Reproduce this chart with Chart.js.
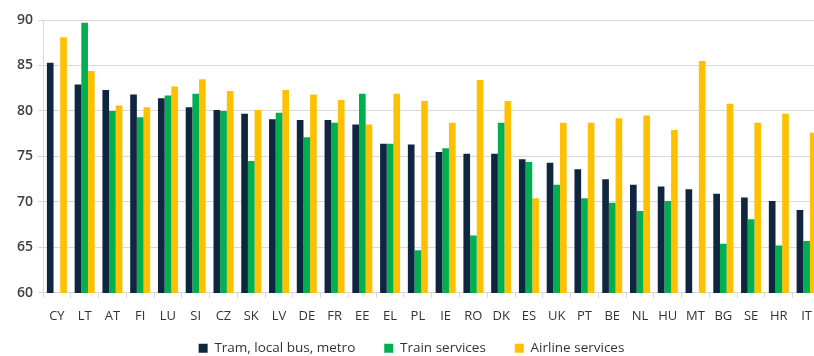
<!DOCTYPE html>
<html>
<head>
<meta charset="utf-8">
<script src="https://cdn.jsdelivr.net/npm/chart.js@4"></script>
<style>
  html, body { margin: 0; padding: 0; background: #fff; overflow: hidden; }
  #wrap { width: 823px; height: 356px; }
</style>
</head>
<body>
<div id="wrap"><canvas id="chart"></canvas></div>
<script>
// Satisfaction with transport services by country (%)
const countries = ["CY","LT","AT","FI","LU","SI","CZ","SK","LV","DE","FR","EE","EL","PL",
                   "IE","RO","DK","ES","UK","PT","BE","NL","HU","MT","BG","SE","HR","IT"];

const tramBusMetro = [85.3, 82.9, 82.3, 81.8, 81.4, 80.4, 80.1, 79.7, 79.1, 79.0, 79.0, 78.5, 76.4, 76.3,
                      75.5, 75.3, 75.3, 74.7, 74.3, 73.6, 72.5, 71.9, 71.7, 71.4, 70.9, 70.5, 70.1, 69.1];
const trainServices = [null, 89.7, 80.0, 79.3, 81.7, 81.9, 80.0, 74.5, 79.8, 77.1, 78.7, 81.9, 76.4, 64.7,
                       75.9, 66.3, 78.7, 74.4, 71.9, 70.4, 69.9, 69.0, 70.1, null, 65.4, 68.1, 65.2, 65.7];
const airlineServices = [88.1, 84.4, 80.6, 80.4, 82.7, 83.5, 82.2, 80.1, 82.3, 81.8, 81.2, 78.5, 81.9, 81.1,
                         78.7, 83.4, 81.1, 70.4, 78.7, 78.7, 79.2, 79.5, 77.9, 85.5, 80.8, 78.7, 79.7, 77.6];

const yTicks = [60, 65, 70, 75, 80, 85, 90];

const FONT = "'Open Sans', 'Liberation Sans', sans-serif";
const TEXT = "#333333";
const GRID = "#d9d9d9";

// wider gaps between legend items without inflating the legend's height
const LEGEND_GAP = "\u2003\u2003";

new Chart(document.getElementById("chart"), {
  type: "bar",
  data: {
    labels: countries,
    datasets: [
      { label: "Tram, local bus, metro", data: tramBusMetro,    backgroundColor: "#0f2540" },
      { label: "Train services",         data: trainServices,   backgroundColor: "#00b050" },
      { label: "Airline services",       data: airlineServices, backgroundColor: "#ffc000" },
    ],
  },
  options: {
    responsive: true,
    maintainAspectRatio: false,
    animation: false,
    layout: { padding: { top: 20, right: 0, bottom: -9, left: 0 } },
    datasets: { bar: { categoryPercentage: 0.72, barPercentage: 1.0 } },
    plugins: {
      tooltip: { enabled: false },
      legend: {
        position: "bottom",
        labels: {
          font: { family: FONT, size: 13.5 },
          color: TEXT,
          boxWidth: 9,
          boxHeight: 9,
          padding: 2,
          generateLabels: chart => {
            const items = Chart.defaults.plugins.legend.labels.generateLabels(chart);
            items.forEach((it, i) => { if (i < items.length - 1) it.text += LEGEND_GAP; });
            return items;
          },
        },
      },
    },
    scales: {
      x: {
        afterFit: axis => { axis.height += 4; },
        grid: { display: true, drawOnChartArea: false, drawTicks: true, tickLength: 5, color: GRID },
        border: { display: true, color: GRID },
        ticks: { font: { family: FONT, size: 13 }, color: TEXT, padding: 11, maxRotation: 0, autoSkip: false },
      },
      y: {
        min: 60,
        max: 90,
        afterBuildTicks: axis => { axis.ticks = yTicks.map(v => ({ value: v })); },
        afterFit: axis => { axis.width = 43; },
        grid: { color: GRID, tickLength: 5 },
        border: { display: true, color: GRID },
        ticks: { font: { family: FONT, size: 14, weight: "600" }, color: "#404040", padding: 5 },
      },
    },
  },
});
</script>
</body>
</html>
